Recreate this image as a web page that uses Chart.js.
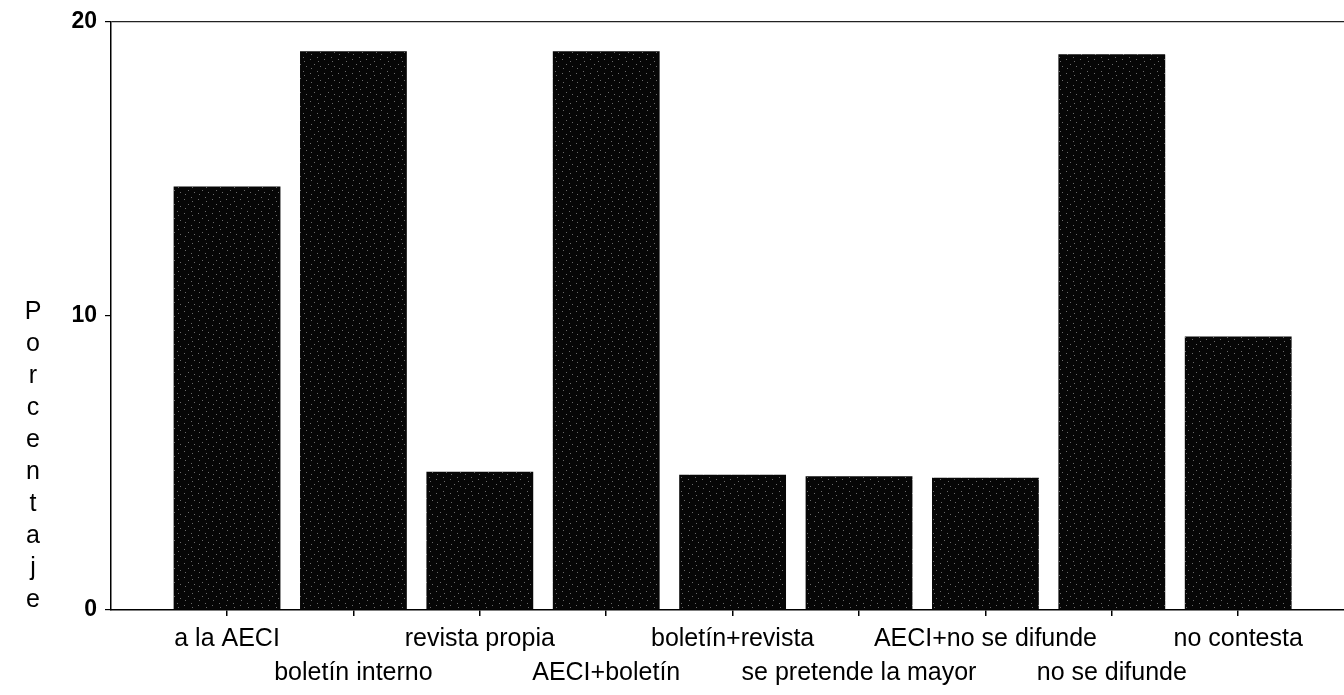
<!DOCTYPE html>
<html>
<head>
<meta charset="utf-8">
<script src="https://cdn.jsdelivr.net/npm/chart.js@4"></script>
<style>
    html, body { margin: 0; padding: 0; background: #fff; }
    #wrap { width: 1344px; height: 695px; }
</style>
</head>
<body>
<div id="wrap"><canvas id="barChart"></canvas></div>
<script>
var categories = ['a la AECI', 'boletín interno', 'revista propia', 'AECI+boletín', 'boletín+revista',
    'se pretende la mayor', 'AECI+no se difunde', 'no se difunde', 'no contesta'];
var values = [14.4, 19.0, 4.7, 19.0, 4.6, 4.55, 4.5, 18.9, 9.3];
var yTicks = [0, 10, 20];
var yTitle = 'Porcentaje';

var fontFamily = 'Arial, "Liberation Sans", sans-serif';

// dark stippled fill like the scanned bars
function stipplePattern(ctx) {
    var c = document.createElement('canvas');
    c.width = 14;
    c.height = 14;
    var p = c.getContext('2d');
    p.fillStyle = '#060606';
    p.fillRect(0, 0, 14, 14);
    p.fillStyle = '#6a6a6a';
    [[2, 3], [9, 1], [6, 8], [12, 10], [3, 12], [10, 5]].forEach(function(d) {
        p.fillRect(d[0], d[1], 1, 1);
    });
    return ctx.createPattern(c, 'repeat');
}

var verticalTitle = {
    id: 'verticalTitle',
    afterDraw: function(chart) {
        var ctx = chart.ctx;
        ctx.save();
        ctx.fillStyle = '#000';
        ctx.font = '25px ' + fontFamily;
        ctx.textAlign = 'center';
        ctx.textBaseline = 'middle';
        yTitle.split('').forEach(function(ch, i) {
            ctx.fillText(ch, 33, 312 + i * 32);
        });
        ctx.restore();
    }
};

var canvas = document.getElementById('barChart');
var ctx = canvas.getContext('2d');

new Chart(canvas, {
    type: 'bar',
    data: {
        datasets: [{
            data: values.map(function(v, i) { return { x: i, y: v }; }),
            backgroundColor: stipplePattern(ctx),
            borderWidth: 0,
            barPercentage: 0.845,
            categoryPercentage: 1
        }]
    },
    options: {
        responsive: true,
        maintainAspectRatio: false,
        animation: false,
        layout: { padding: { top: 18, left: 0, right: 0, bottom: 0 } },
        plugins: {
            legend: { display: false },
            tooltip: { enabled: false }
        },
        scales: {
            x: {
                type: 'linear',
                offset: false,
                min: -0.918,
                max: 8.837,
                afterBuildTicks: function(scale) {
                    scale.ticks = categories.map(function(c, i) { return { value: i }; });
                },
                afterFit: function(scale) { scale.height = 85; },
                grid: {
                    offset: false,
                    drawOnChartArea: false,
                    tickLength: 6,
                    color: '#000',
                    lineWidth: 1.5
                },
                border: { display: true, color: '#000', width: 1.5 },
                ticks: {
                    autoSkip: false,
                    maxRotation: 0,
                    padding: 6,
                    color: '#000',
                    font: { family: fontFamily, size: 25, lineHeight: 1.36 },
                    callback: function(value) {
                        var label = categories[value];
                        return value % 2 === 0 ? [label, ''] : ['', label];
                    }
                }
            },
            y: {
                min: 0,
                max: 20,
                afterBuildTicks: function(scale) {
                    scale.ticks = yTicks.map(function(v) { return { value: v }; });
                },
                afterFit: function(scale) { scale.width = 111; },
                grid: {
                    color: function(c) { return c.tick && c.tick.value === 20 ? '#222' : 'rgba(0,0,0,0)'; },
                    tickColor: '#000',
                    tickLength: 6,
                    lineWidth: 1.2
                },
                border: { display: true, color: '#000', width: 1.5 },
                ticks: {
                    padding: 8,
                    color: '#000',
                    font: { family: fontFamily, size: 23, weight: 'bold' }
                }
            }
        }
    },
    plugins: [verticalTitle]
});
</script>
</body>
</html>
